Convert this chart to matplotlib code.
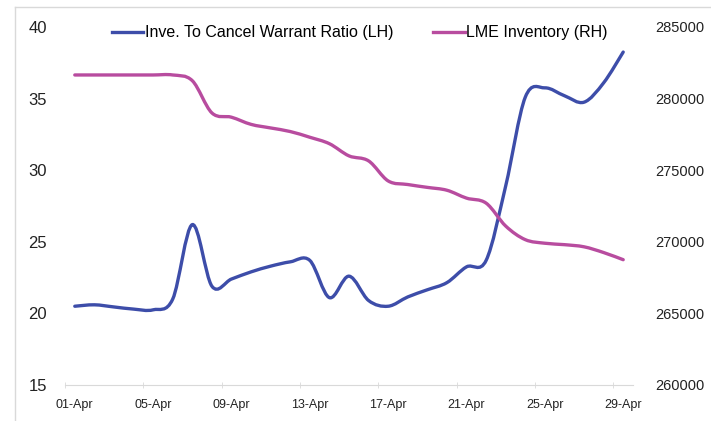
import numpy as np
import matplotlib
matplotlib.use("Agg")
import matplotlib.pyplot as plt
from matplotlib.path import Path
from matplotlib.patches import PathPatch
from matplotlib.lines import Line2D

plt.rcParams['font.family'] = ['Liberation Sans', 'DejaVu Sans']

# daily values, 01-Apr .. 29-Apr
days = [f"{d:02d}-Apr" for d in range(1, 30)]
ratio = [20.5, 20.6, 20.45, 20.3, 20.25, 21.0, 26.2, 21.9, 22.4, 22.9,
         23.3, 23.6, 23.7, 21.1, 22.6, 20.9, 20.5, 21.15, 21.65, 22.15,
         23.25, 23.7, 28.9, 35.1, 35.75, 35.2, 34.75, 36.1, 38.25]
inventory = [281650, 281650, 281650, 281650, 281650, 281650, 281250, 279000, 278700, 278200,
             277950, 277700, 277300, 276850, 276000, 275650, 274250, 274000, 273800, 273600,
             273050, 272700, 271100, 270150, 269900, 269800, 269650, 269250, 268750]

ratio_label = "Inve. To Cancel Warrant Ratio (LH)"
inv_label = "LME Inventory (RH)"
blue = "#3D4DA9"
purple = "#B84C9F"


def smooth_path(x, y):
    # excel-style smoothed line drawn as cubic bezier segments
    x = np.asarray(x, float)
    y = np.asarray(y, float)
    n = len(x)
    verts = [(x[0], y[0])]
    codes = [Path.MOVETO]
    for i in range(n - 1):
        p0 = max(i - 1, 0)
        p3 = min(i + 2, n - 1)
        c1 = (x[i] + (x[i + 1] - x[p0]) / 6, y[i] + (y[i + 1] - y[p0]) / 6)
        c2 = (x[i + 1] - (x[p3] - x[i]) / 6, y[i + 1] - (y[p3] - y[i]) / 6)
        verts += [c1, c2, (x[i + 1], y[i + 1])]
        codes += [Path.CURVE4] * 3
    return Path(verts, codes)


fig = plt.figure(figsize=(7.11, 4.21), dpi=100)
W, H = 711, 421
ax = fig.add_axes([65 / W, 1 - 385 / H, 568 / W, 358 / H])
ax2 = ax.twinx()

x = np.arange(len(days))
ax.add_patch(PathPatch(smooth_path(x, ratio), fill=False, edgecolor=blue, lw=2.4,
                       capstyle='round', joinstyle='round'))
ax2.add_patch(PathPatch(smooth_path(x, inventory), fill=False, edgecolor=purple, lw=2.4,
                        capstyle='round', joinstyle='round'))

ax.set_xlim(-0.5, len(days) - 0.5)
ax.set_ylim(15, 40)
ax.set_yticks(range(15, 41, 5))
ax2.set_ylim(260000, 285000)
ax2.set_yticks(range(260000, 285001, 5000))

ax.set_xticks(x[::4])
ax.set_xticklabels(days[::4])
ax.set_xticks(np.arange(-0.5, len(days) - 1, 4), minor=True)

for a in (ax, ax2):
    for s in a.spines.values():
        s.set_visible(False)
ax.spines['bottom'].set_visible(True)
ax.spines['bottom'].set_color("#d9d9d9")

ax.tick_params(axis='x', which='major', length=0, pad=10, labelsize=9, colors="#222222")
ax.tick_params(axis='x', which='minor', length=4, direction='inout', color="#d9d9d9")
ax.tick_params(axis='y', length=0, pad=13, labelsize=12, colors="#222222")
ax2.tick_params(axis='y', length=0, pad=16, labelsize=10.5, colors="#222222")

handles = [Line2D([], [], color=blue, lw=2.4), Line2D([], [], color=purple, lw=2.4)]
fig.legend(handles, [ratio_label, inv_label], loc='center', bbox_to_anchor=(360 / W, 1 - 33 / H),
           ncol=2, frameon=False, fontsize=11.5, handlelength=1.95, handletextpad=0.1,
           columnspacing=2.5)

# outer chart border (cropped on right and bottom)
fig.add_artist(Line2D([15 / W, 15 / W], [0, 1 - 7 / H], transform=fig.transFigure, color="#d9d9d9", lw=1))
fig.add_artist(Line2D([15 / W, 1], [1 - 7 / H, 1 - 7 / H], transform=fig.transFigure, color="#d9d9d9", lw=1))

fig.savefig("out.png", dpi=100)
